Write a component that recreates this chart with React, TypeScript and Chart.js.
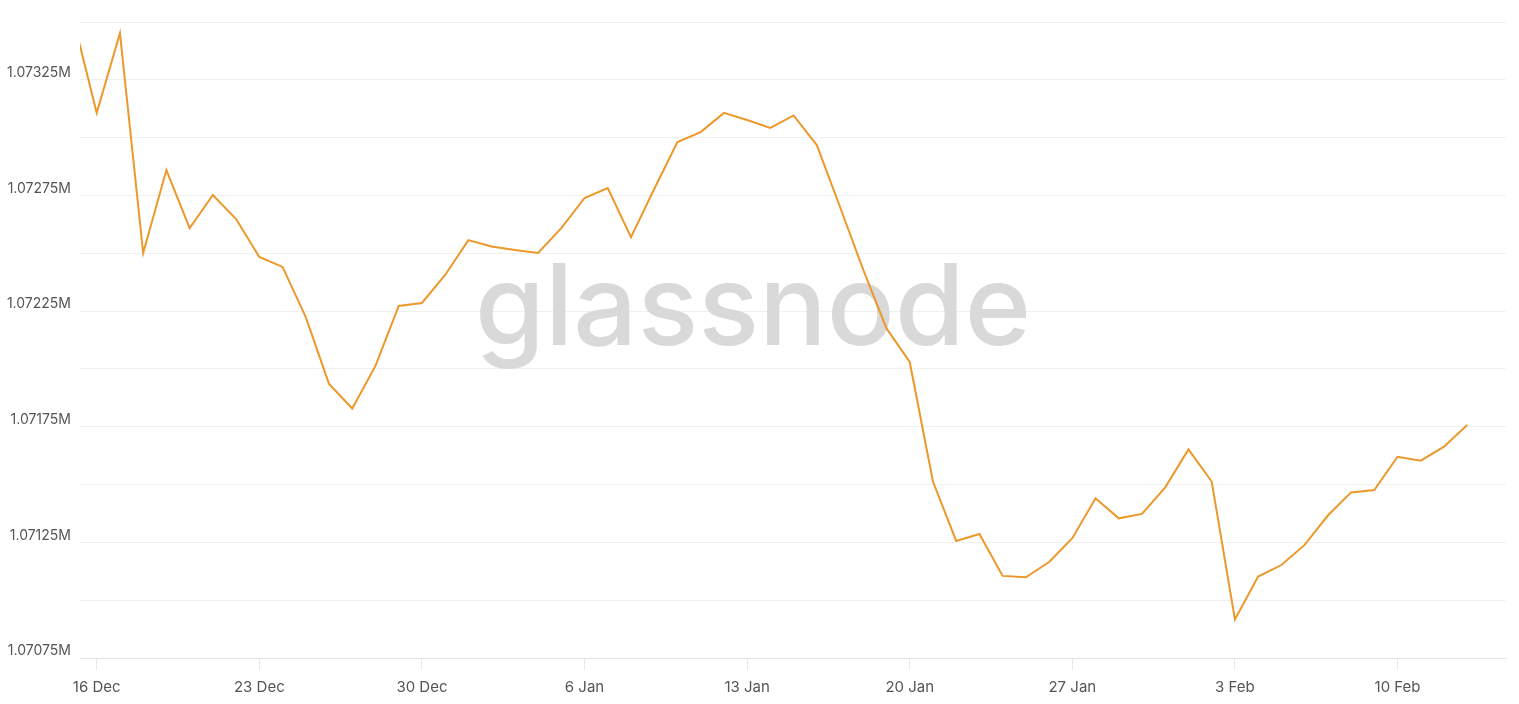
import React, { useEffect, useRef } from "react";
import { Chart, registerables } from "chart.js";

Chart.register(...registerables);

// Day offsets relative to 16 Dec (day 0); first value is 15 Dec
const startDay = -1;
const values: number[] = [
  1073510, 1073107, 1073452, 1072501, 1072860, 1072609, 1072752, 1072648,
  1072484, 1072441, 1072224, 1071935, 1071829, 1072013, 1072272, 1072285,
  1072406, 1072557, 1072529, 1072514, 1072501, 1072609, 1072739, 1072782,
  1072570, 1072778, 1072981, 1073024, 1073107, 1073076, 1073042, 1073096,
  1072968, 1072700, 1072428, 1072175, 1072030, 1071513, 1071256, 1071286,
  1071105, 1071099, 1071165, 1071268, 1071441, 1071354, 1071373, 1071488,
  1071652, 1071513, 1070917, 1071102, 1071152, 1071239, 1071366, 1071466,
  1071476, 1071620, 1071603, 1071664, 1071757,
];
const tickDays: number[] = [0, 7, 14, 21, 28, 35, 42, 49, 56];
const tickLabels: string[] = [
  "16 Dec", "23 Dec", "30 Dec", "6 Jan", "13 Jan", "20 Jan", "27 Jan", "3 Feb", "10 Feb",
];
const xMin = -0.72;
const xMax = 60.67;
const yMin = 1070750;
const yMax = 1073500;
const yStep = 250;

const watermark = {
  id: "watermark",
  beforeDatasetsDraw(chart: any) {
    const ctx = chart.ctx as CanvasRenderingContext2D;
    ctx.save();
    ctx.font = "500 100px Inter";
    const w = ctx.measureText("glassnode").width;
    const size = (100 * 556) / w;
    ctx.font = `500 ${size}px Inter`;
    ctx.fillStyle = "#d9d9d9";
    ctx.textAlign = "center";
    ctx.textBaseline = "alphabetic";
    ctx.fillText("glassnode", 753, 345);
    ctx.restore();
  },
};

export default function App() {
  const ref = useRef<HTMLCanvasElement | null>(null);
  useEffect(() => {
    if (!ref.current) return;
    const points = values.map((v, i) => ({ x: startDay + i, y: v }));
    const chart = new Chart(ref.current, {
      type: "line",
      data: {
        datasets: [
          {
            data: points,
            borderColor: "#ec982b",
            borderWidth: 2,
            pointRadius: 0,
            tension: 0,
            fill: false,
          },
        ],
      },
      options: {
        animation: false,
        responsive: true,
        maintainAspectRatio: false,
        layout: { padding: { top: 22, right: 13, left: 0, bottom: 0 } },
        plugins: { legend: { display: false }, tooltip: { enabled: false } },
        scales: {
          x: {
            type: "linear",
            min: xMin,
            max: xMax,
            afterBuildTicks: (axis: any) => {
              axis.ticks = tickDays.map((v) => ({ value: v }));
            },
            afterFit: (axis: any) => {
              axis.height = 46;
            },
            grid: {
              display: true,
              drawOnChartArea: false,
              drawTicks: true,
              tickLength: 12,
              color: "#e8e8e8",
            },
            border: { display: true, color: "#e3e3e3" },
            ticks: {
              autoSkip: false,
              maxRotation: 0,
              padding: 8,
              color: "#555555",
              font: { family: "Inter", size: 15 },
              callback: (v: any) => {
                const i = tickDays.indexOf(Number(v));
                return i >= 0 ? tickLabels[i] : "";
              },
            },
          },
          y: {
            type: "linear",
            min: yMin,
            max: yMax,
            afterFit: (axis: any) => {
              axis.width = 80;
            },
            grid: { color: "#f0f0f0", drawTicks: false },
            border: { display: false },
            ticks: {
              stepSize: yStep,
              autoSkip: false,
              padding: 9,
              labelOffset: -7,
              color: "#555555",
              font: { family: "Inter", size: 14 },
              callback: (v: any) => {
                const n = Number(v);
                if (Math.round(n - yMin) % 500 !== 0) return "";
                return (n / 1e6).toFixed(5) + "M";
              },
            },
          },
        },
      },
      plugins: [watermark],
    });
    return () => chart.destroy();
  }, []);
  return (
    <div style={{ position: "fixed", left: 0, top: 0, width: 1519, height: 704, background: "#fff" }}>
      <canvas ref={ref} />
    </div>
  );
}
